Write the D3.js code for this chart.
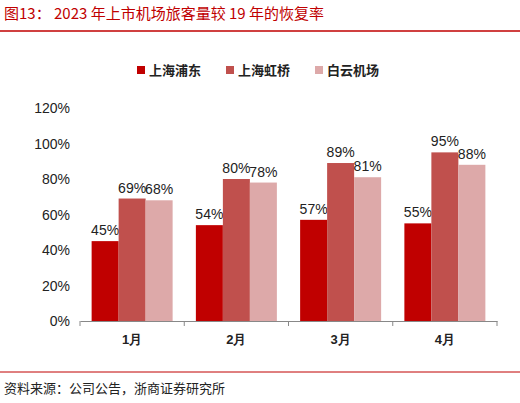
<!DOCTYPE html>
<html><head><meta charset="utf-8">
<script src="https://cdn.jsdelivr.net/npm/d3@7"></script>
<style>body{margin:0;background:#fff;font-family:"Noto Sans CJK SC","Liberation Sans",sans-serif}</style>
</head><body>
<svg id="chart" width="520" height="403"></svg>
<script>
const months = ["1月", "2月", "3月", "4月"];
const seriesNames = ["上海浦东", "上海虹桥", "白云机场"];
const pudong = [45, 54, 57, 55];
const hongqiao = [69, 80, 89, 95];
const baiyun = [68, 78, 81, 88];
const yTicks = [0, 20, 40, 60, 80, 100, 120];
const colors = ["#C00000", "#C0504D", "#DDA9A9"];

let svg = d3.select("#chart");

// title
svg.append("text").attr("x", 4).attr("y", 19)
    .attr("fill", "#C00000").attr("font-size", 15)
    .text("图13：  2023 年上市机场旅客量较 19 年的恢复率");
svg.append("line").attr("x1", 0).attr("x2", 520).attr("y1", 31).attr("y2", 31)
    .attr("stroke", "#C00000").attr("stroke-width", 1.5);

let x = d3.scaleBand().domain(months).range([80, 497]);
let xi = d3.scaleBand().domain(seriesNames).range([0, 81]);
let y = d3.scaleLinear().domain([0, 120]).range([321, 108]);

// y axis labels
svg.append("g").selectAll("text").data(yTicks).enter().append("text")
    .attr("x", 70).attr("y", d => y(d) + 5).attr("text-anchor", "end")
    .attr("font-size", 14).attr("fill", "#222").attr("font-family", "Liberation Sans, sans-serif")
    .text(d => d + "%");

// bottom axis
let xAxis = svg.append("g").attr("transform", "translate(0,321)")
    .call(d3.axisBottom(x).tickSize(0).tickPadding(14));
xAxis.select(".domain").attr("stroke", "#888");
xAxis.selectAll("text").attr("font-size", 13).attr("fill", "#222").attr("font-weight", "bold");
svg.append("g").selectAll("line").data(months.concat(["end"])).enter().append("line")
    .attr("x1", (d, i) => 80 + i * x.bandwidth()).attr("x2", (d, i) => 80 + i * x.bandwidth())
    .attr("y1", 321).attr("y2", 326).attr("stroke", "#888");

let series = [pudong, hongqiao, baiyun];
series.forEach((vals, s) => {
    let g = svg.append("g");
    let rows = months.map((m, i) => ({ m: m, v: vals[i] }));
    let bx = d => x(d.m) + (x.bandwidth() - 81) / 2 + xi(seriesNames[s]);
    g.selectAll("rect").data(rows).enter().append("rect")
        .attr("x", bx).attr("width", xi.bandwidth())
        .attr("y", d => y(d.v)).attr("height", d => 321 - y(d.v))
        .attr("fill", colors[s]);
    g.selectAll("text").data(rows).enter().append("text")
        .attr("x", d => bx(d) + xi.bandwidth() / 2).attr("y", d => y(d.v) - 6)
        .attr("text-anchor", "middle").attr("font-size", 14).attr("fill", "#222")
        .attr("font-family", "Liberation Sans, sans-serif")
        .text(d => d.v + "%");
});

// legend
let lg = svg.append("g").selectAll("g").data(seriesNames).enter().append("g")
    .attr("transform", (d, i) => "translate(" + (137 + i * 89) + ",66)");
lg.append("rect").attr("width", 8).attr("height", 8).attr("fill", (d, i) => colors[i]);
lg.append("text").attr("x", 12).attr("y", 9).attr("font-size", 13).attr("fill", "#222")
    .attr("font-weight", "bold").text(d => d);

// source
svg.append("line").attr("x1", 0).attr("x2", 520).attr("y1", 372).attr("y2", 372)
    .attr("stroke", "#C00000").attr("stroke-width", 1);
svg.append("text").attr("x", 4).attr("y", 393).attr("font-size", 13).attr("fill", "#222")
    .text("资料来源：公司公告，浙商证券研究所");
</script>
</body></html>
